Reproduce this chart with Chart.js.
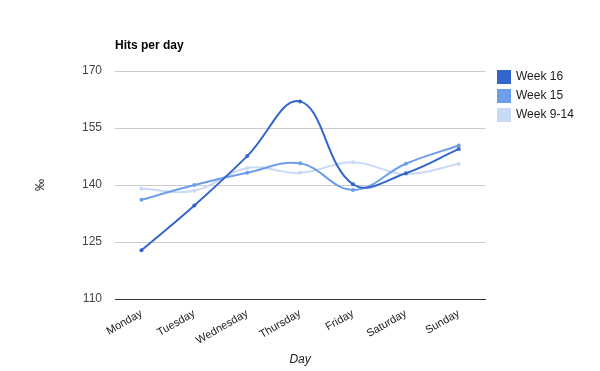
<!DOCTYPE html>
<html>
<head>
<meta charset="utf-8">
<script src="https://cdn.jsdelivr.net/npm/chart.js@4"></script>
<style>
  html, body { margin: 0; padding: 0; background: #fff; }
  #wrap { width: 600px; height: 371px; position: relative; }
</style>
</head>
<body>
<div id="wrap"><canvas id="c" width="600" height="371"></canvas></div>
<script>
const categories = ["Monday", "Tuesday", "Wednesday", "Thursday", "Friday", "Saturday", "Sunday"];
const week16 = [122.8, 134.6, 147.6, 162.0, 140.2, 143.1, 149.5];
const week15 = [136.1, 140.0, 143.2, 145.7, 138.7, 145.6, 150.4];
const week9to14 = [139.0, 138.5, 144.5, 143.2, 146.0, 142.9, 145.5];
const seriesNames = ["Week 16", "Week 15", "Week 9-14"];
const yTicks = [110, 125, 140, 155, 170];
const chartTitle = "Hits per day";
const yTitle = "‰";
const xTitle = "Day";

const colors = ["#3366cc", "#6d9eeb", "#c9daf8"];
const FONT = "Arial, 'Liberation Sans', sans-serif";

const titlePlugin = {
  id: 'leftTitle',
  afterDraw(chart) {
    const ctx = chart.ctx;
    ctx.save();
    ctx.font = "bold 12px " + FONT;
    ctx.fillStyle = "#000";
    ctx.textBaseline = "middle";
    ctx.textAlign = "left";
    ctx.fillText(chartTitle, chart.chartArea.left, 46);
    ctx.restore();
  }
};

const legendShift = {
  id: 'legendShift',
  afterLayout(chart) {
    const lg = chart.legend;
    if (!lg) return;
    const w = lg.width, h = lg.height;
    lg.left = 491; lg.right = 491 + w;
    lg.top = 64; lg.bottom = 64 + h;
  }
};

const data = {
  labels: categories,
  datasets: [week16, week15, week9to14].map((vals, i) => ({
    label: seriesNames[i],
    data: vals,
    borderColor: colors[i],
    backgroundColor: colors[i],
    borderWidth: 2,
    pointRadius: 2,
    pointHoverRadius: 3,
    pointBorderWidth: 0,
    tension: 0.4,
    fill: false
  }))
};

new Chart(document.getElementById('c'), {
  type: 'line',
  data,
  options: {
    responsive: false,
    animation: false,
    devicePixelRatio: 1,
    layout: { padding: { top: 71, right: 22, bottom: 0, left: 0 } },
    plugins: {
      legend: {
        position: 'right',
        align: 'start',
        labels: {
          boxWidth: 12,
          boxHeight: 12,
          padding: 7,
          color: '#222',
          font: { family: FONT, size: 12 }
        }
      },
      title: { display: false },
      tooltip: { enabled: false }
    },
    scales: {
      x: {
        offset: true,
        grid: { display: false, drawTicks: false, offset: true },
        border: { display: true, color: '#333', width: 1 },
        ticks: {
          color: '#222',
          font: { family: FONT, size: 11 },
          minRotation: 30,
          maxRotation: 30,
          padding: 8
        },
        title: {
          display: true,
          text: xTitle,
          color: '#222',
          font: { family: FONT, size: 12, style: 'italic' },
          padding: { top: 0, bottom: 4 }
        },
        afterFit(scale) { scale.height = 72; }
      },
      y: {
        min: 110,
        max: 170,
        afterBuildTicks(scale) { scale.ticks = yTicks.map(v => ({ value: v })); },
        grid: { color: '#cccccc', drawTicks: false },
        border: { display: false },
        ticks: {
          color: '#444',
          font: { family: FONT, size: 12 },
          padding: 13
        },
        title: {
          display: true,
          text: yTitle,
          color: '#222',
          font: { family: FONT, size: 12 },
          padding: { top: 33, bottom: 0 }
        },
        afterFit(scale) { scale.width = 115; }
      }
    }
  },
  plugins: [titlePlugin, legendShift]
});
</script>
</body>
</html>
